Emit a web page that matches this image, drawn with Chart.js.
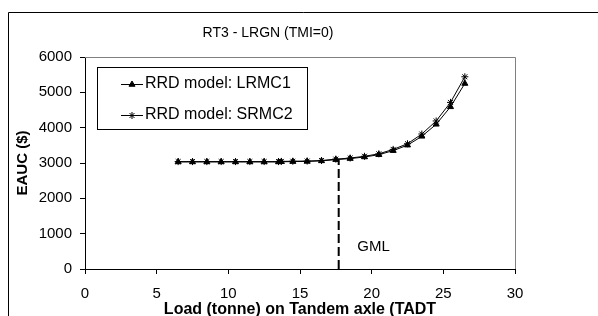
<!DOCTYPE html>
<html>
<head>
<meta charset="utf-8">
<script src="https://cdn.jsdelivr.net/npm/chart.js@4.4.1/dist/chart.umd.min.js"></script>
<style>
  html, body { margin: 0; padding: 0; background: #fff; }
  #wrap { width: 598px; height: 316px; }
</style>
</head>
<body>
<div id="wrap"><canvas id="chart" width="598" height="316"></canvas></div>
<script>
const loads = [6.5, 7.5, 8.5, 9.5, 10.5, 11.5, 12.5, 13.5, 13.7, 14.5, 15.5, 16.5,
    17.5, 18.5, 19.5, 20.5, 21.5, 22.5, 23.5, 24.5, 25.5, 26.5];
const lrmc1 = [3030, 3030, 3030, 3030, 3030, 3030, 3030, 3030, 3035, 3040, 3045, 3060,
    3095, 3125, 3170, 3235, 3350, 3505, 3755, 4095, 4590, 5250];
const srmc2 = [3040, 3040, 3040, 3040, 3040, 3040, 3040, 3040, 3045, 3050, 3055, 3070,
    3110, 3140, 3190, 3260, 3385, 3545, 3820, 4190, 4715, 5440];
const gmlX = [17.7, 17.7];
const gmlY = [0, 3090];
const gmlLabel = { text: 'GML', x: 19, y: 620 };
const xTicks = [0, 5, 10, 15, 20, 25, 30];
const yTicks = [0, 1000, 2000, 3000, 4000, 5000, 6000];

const FONT = '"Liberation Sans", Arial, sans-serif';

function toPoints(xs, ys) {
    return xs.map((x, i) => ({ x: x, y: ys[i] }));
}

const decor = {
    id: 'decor',
    afterDraw(chart) {
        const ctx = chart.ctx;
        const area = chart.chartArea;
        const xs = chart.scales.x;
        const ys = chart.scales.y;
        ctx.save();

        // outer chart frame
        ctx.strokeStyle = '#000';
        ctx.lineWidth = 1;
        ctx.beginPath();
        ctx.moveTo(8.5, 316);
        ctx.lineTo(8.5, 12.5);
        ctx.lineTo(598, 12.5);
        ctx.stroke();

        // plot area top and right edges
        ctx.strokeStyle = '#808080';
        ctx.beginPath();
        ctx.moveTo(area.left, area.top + 0.5);
        ctx.lineTo(area.right + 0.5, area.top + 0.5);
        ctx.lineTo(area.right + 0.5, area.bottom);
        ctx.stroke();

        // title
        ctx.fillStyle = '#000';
        ctx.font = '14px ' + FONT;
        ctx.textAlign = 'center';
        ctx.textBaseline = 'middle';
        ctx.fillText('RT3 - LRGN (TMI=0)', 268, 33);

        // GML label
        ctx.font = '15px ' + FONT;
        ctx.textAlign = 'left';
        ctx.fillText(gmlLabel.text, xs.getPixelForValue(gmlLabel.x), ys.getPixelForValue(gmlLabel.y));

        // legend box
        ctx.fillStyle = '#fff';
        ctx.fillRect(97, 67, 210, 62);
        ctx.strokeStyle = '#000';
        ctx.strokeRect(97.5, 67.5, 210, 62);
        ctx.font = '16px ' + FONT;
        const rows = [84, 115];
        chart.data.datasets.slice(0, 2).forEach((ds, i) => {
            const y = rows[i] + 0.5;
            ctx.strokeStyle = '#000';
            ctx.fillStyle = '#000';
            ctx.lineWidth = 1;
            ctx.beginPath();
            ctx.moveTo(121, y);
            ctx.lineTo(143, y);
            ctx.stroke();
            Chart.helpers.drawPoint(ctx, {
                pointStyle: ds.pointStyle,
                radius: ds.pointRadius,
                rotation: 0,
                borderWidth: 1
            }, 132, y);
            ctx.fillText(ds.label, 145, rows[i]);
        });
        ctx.restore();
    }
};

new Chart(document.getElementById('chart'), {
    type: 'line',
    data: {
        datasets: [
            {
                label: 'RRD model: LRMC1',
                data: toPoints(loads, lrmc1),
                borderColor: '#000',
                backgroundColor: '#000',
                borderWidth: 1,
                pointStyle: 'triangle',
                pointRadius: 3.5,
                pointBorderWidth: 1,
                tension: 0
            },
            {
                label: 'RRD model: SRMC2',
                data: toPoints(loads, srmc2),
                borderColor: '#000',
                backgroundColor: '#000',
                borderWidth: 1,
                pointStyle: 'star',
                pointRadius: 3.5,
                pointBorderWidth: 1,
                tension: 0
            },
            {
                label: 'GML',
                data: toPoints(gmlX, gmlY),
                borderColor: '#000',
                borderWidth: 2,
                borderDash: [9, 4],
                pointRadius: 0
            }
        ]
    },
    options: {
        responsive: false,
        animation: false,
        layout: { padding: { left: 0, right: 83, top: 57, bottom: 0 } },
        plugins: {
            legend: { display: false },
            title: { display: false },
            tooltip: { enabled: false }
        },
        scales: {
            x: {
                type: 'linear',
                min: 0,
                max: 30,
                afterBuildTicks: (s) => { s.ticks = xTicks.map(v => ({ value: v })); },
                afterFit: (s) => { s.height = 47; },
                grid: { display: true, drawOnChartArea: false, tickLength: 5, color: '#000' },
                border: { color: '#000', width: 1 },
                ticks: {
                    color: '#000',
                    font: { family: FONT, size: 15 },
                    padding: 11,
                    maxRotation: 0,
                    callback: (v) => String(v)
                },
                title: {
                    display: true,
                    text: 'Load (tonne) on Tandem axle (TADT',
                    color: '#000',
                    font: { family: FONT, size: 16, weight: 'bold', lineHeight: 0.8 },
                    padding: 0
                }
            },
            y: {
                min: 0,
                max: 6000,
                afterBuildTicks: (s) => { s.ticks = yTicks.map(v => ({ value: v })); },
                afterFit: (s) => { s.width = 85; },
                grid: { display: true, drawOnChartArea: false, tickLength: 5, color: '#000' },
                border: { color: '#000', width: 1 },
                ticks: {
                    color: '#000',
                    font: { family: FONT, size: 15 },
                    padding: 8,
                    callback: (v) => String(v)
                },
                title: {
                    display: true,
                    text: 'EAUC ($)',
                    color: '#000',
                    font: { family: FONT, size: 15, weight: 'bold', lineHeight: 1.2 },
                    padding: { top: 14, bottom: 0 }
                }
            }
        }
    },
    plugins: [decor]
});
</script>
</body>
</html>
